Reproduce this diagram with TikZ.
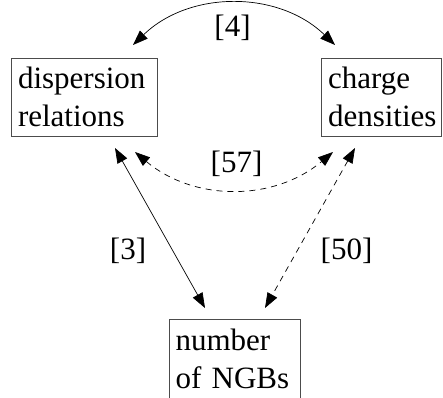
\documentclass[tikz,border=0pt]{standalone}
\usepackage{fontspec}
\setmainfont{Liberation Serif}
\usetikzlibrary{arrows.meta}
\begin{document}
\begin{tikzpicture}[x=1pt,y=1pt,
  box/.style={draw=black!70, line width=0.8pt, align=left, inner xsep=6.5pt, inner ysep=0pt,
    font=\fontsize{31}{38}\selectfont, minimum height=78pt},
  lbl/.style={font=\fontsize{31}{38}\selectfont, inner sep=0pt},
  conn/.style={line width=0.7pt, {Triangle[length=15pt,width=11pt]}-{Triangle[length=15pt,width=11pt]}},
  dsh/.style={dash pattern=on 6pt off 5pt}]
\useasboundingbox (0,0) rectangle (443,397);
\node[box, text width=133pt] (disp) at (84.5,300) {dispersion\\relations};
\node[box, text width=107pt] (charge) at (381.5,300) {charge\\densities};
\node[box, text width=118pt, minimum height=80pt] (ngb) at (234.5,38) {number\\of NGBs};
\coordinate (t1) at (133,352);
\coordinate (t2) at (335,352);
\coordinate (d1) at (135,245);
\coordinate (d2) at (333,245);
\coordinate (s1) at (115,249);
\coordinate (s2) at (205,89);
\coordinate (e1) at (355,249);
\coordinate (e2) at (265,89);
\draw[conn] (t1) to[bend left=44] (t2);
\draw[conn,dsh] (d1) to[bend right=40] (d2);
\draw[conn] (s1) -- (s2);
\draw[conn,dsh] (e1) -- (e2);
\node[lbl] (l4) at (232.5,369) {[4]};
\node[lbl] (l57) at (236.5,233) {[57]};
\node[lbl] (l3) at (128,146) {[3]};
\node[lbl] (l50) at (346.5,146) {[50]};
\end{tikzpicture}
\end{document}
